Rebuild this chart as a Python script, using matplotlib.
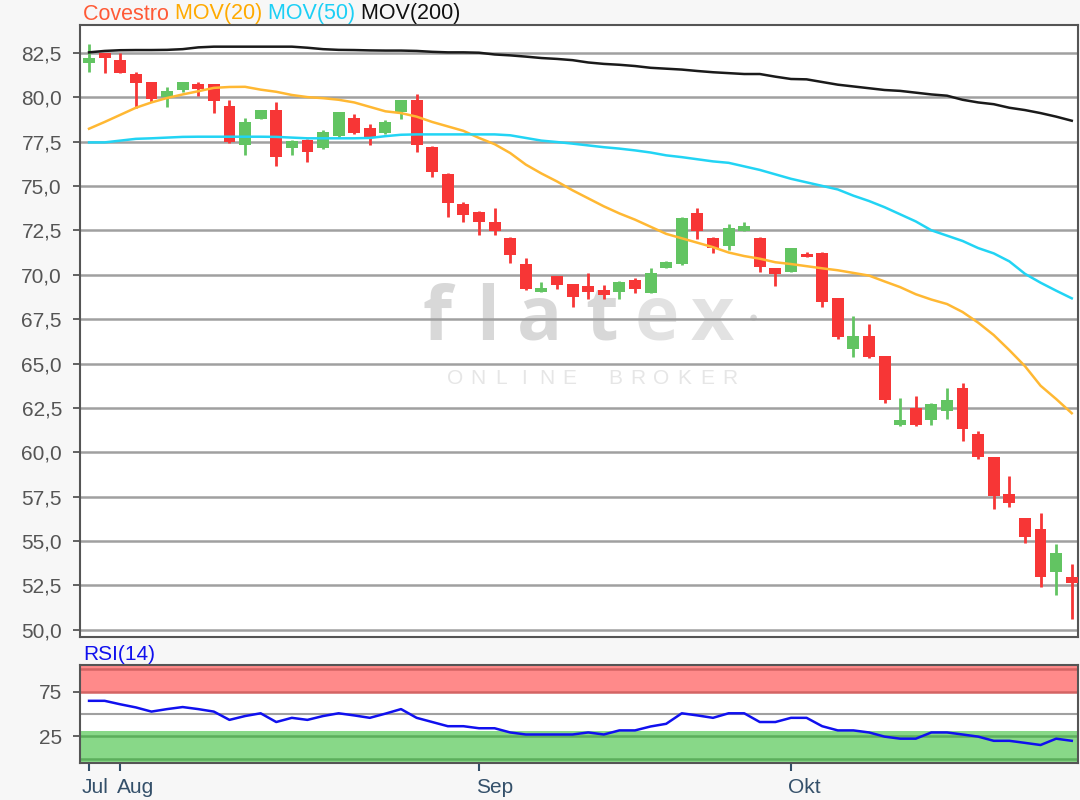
import numpy as np
import pandas as pd
import matplotlib
matplotlib.use('Agg')
import matplotlib.pyplot as plt
import matplotlib.transforms as mtransforms
from matplotlib.ticker import FuncFormatter, FixedLocator

plt.rcParams['font.family'] = ['Liberation Sans', 'DejaVu Sans']

# Covestro daily candles, Jul 30 - Oct 25 2018
dates = pd.bdate_range('2018-07-30', periods=64)

opens = [81.9, 82.47, 82.09, 81.28, 80.83, 80.02, 80.4, 80.72, 80.72, 79.5,
         77.3, 78.77, 79.27, 77.15, 77.58, 77.12, 77.83, 78.81, 78.24, 77.96,
         79.18, 79.84, 77.21, 75.65, 73.98, 73.51, 72.95, 72.05, 70.6, 69.04,
         69.93, 69.46, 69.36, 69.14, 69.04, 69.7, 68.95, 70.37, 70.6, 73.49,
         72.05, 71.61, 72.48, 72.05, 70.36, 70.17, 71.17, 71.24, 68.67, 65.8,
         66.55, 65.42, 61.52, 62.48, 61.8, 62.34, 63.6, 61.03, 59.72, 57.65,
         56.29, 55.7, 53.28, 52.99]
highs = [82.99, 82.5, 82.47, 81.43, 80.85, 80.59, 80.86, 80.87, 80.75, 79.84,
         78.81, 79.3, 79.7, 77.6, 77.62, 78.15, 79.16, 79.03, 78.47, 78.71,
         79.86, 80.17, 77.25, 75.7, 74.11, 73.6, 73.74, 72.1, 70.92, 69.61,
         69.95, 69.5, 70.11, 69.42, 69.65, 69.8, 70.36, 70.75, 73.25, 73.77,
         72.1, 72.85, 72.98, 72.1, 70.4, 71.5, 71.3, 71.3, 68.7, 67.67,
         67.22, 65.45, 63.04, 63.17, 62.75, 63.6, 63.92, 61.22, 59.75, 58.67,
         56.3, 56.6, 54.86, 53.71]
lows = [81.43, 81.34, 81.34, 79.4, 79.74, 79.46, 80.3, 80.08, 79.09, 77.42,
        76.74, 78.75, 76.12, 76.74, 76.36, 77.1, 77.68, 77.94, 77.3, 77.94,
        78.77, 76.93, 75.48, 73.23, 72.98, 72.24, 72.24, 70.64, 69.15, 69.0,
        69.18, 68.16, 68.61, 68.61, 68.61, 68.95, 68.95, 70.35, 70.55, 71.99,
        71.21, 71.4, 72.45, 70.17, 69.36, 70.15, 70.98, 68.16, 66.36, 65.35,
        65.3, 62.76, 61.5, 61.5, 61.52, 61.86, 60.65, 59.6, 56.79, 56.9,
        54.88, 52.4, 51.94, 50.6]
closes = [82.18, 82.22, 81.34, 80.78, 79.89, 80.36, 80.83, 80.44, 79.78, 77.45,
          78.58, 79.27, 76.61, 77.53, 76.89, 78.02, 79.14, 77.96, 77.71, 78.58,
          79.84, 77.3, 75.8, 74.02, 73.36, 72.98, 72.48, 71.11, 69.18, 69.23,
          69.42, 68.73, 69.04, 68.86, 69.61, 69.18, 70.11, 70.74, 73.18, 72.48,
          71.52, 72.61, 72.74, 70.42, 70.04, 71.49, 70.98, 68.48, 66.48, 66.55,
          65.35, 62.94, 61.8, 61.52, 62.72, 62.94, 61.3, 59.72, 57.54, 57.13,
          55.24, 52.96, 54.32, 52.62]

mov20 = [78.22, 78.6, 79.0, 79.4, 79.7, 79.95, 80.15, 80.33, 80.52, 80.57,
         80.58, 80.42, 80.3, 80.12, 80.0, 79.94, 79.85, 79.7, 79.45, 79.2,
         79.1, 78.9, 78.6, 78.35, 78.1, 77.7, 77.35, 76.85, 76.2, 75.7,
         75.25, 74.75, 74.3, 73.85, 73.45, 73.1, 72.7, 72.3, 72.05, 71.8,
         71.55, 71.25, 71.05, 70.9, 70.7, 70.6, 70.48, 70.36, 70.25, 70.1,
         69.95, 69.62, 69.3, 68.9, 68.6, 68.35, 67.9, 67.3, 66.6, 65.75,
         64.85, 63.75, 63.0, 62.2]
mov50 = [77.45, 77.45, 77.55, 77.65, 77.68, 77.72, 77.76, 77.77, 77.77, 77.77,
         77.77, 77.77, 77.76, 77.72, 77.68, 77.68, 77.68, 77.68, 77.7, 77.8,
         77.88, 77.9, 77.9, 77.9, 77.9, 77.9, 77.9, 77.85, 77.7, 77.55,
         77.47, 77.38, 77.28, 77.18, 77.1, 77.0, 76.88, 76.72, 76.62, 76.5,
         76.38, 76.3, 76.1, 75.9, 75.65, 75.4, 75.2, 75.0, 74.8, 74.45,
         74.15, 73.8, 73.4, 73.0, 72.5, 72.2, 71.9, 71.5, 71.2, 70.75,
         70.05, 69.55, 69.1, 68.67]
mov200 = [82.52, 82.6, 82.64, 82.65, 82.65, 82.66, 82.7, 82.8, 82.84, 82.84,
          82.84, 82.84, 82.84, 82.84, 82.78, 82.7, 82.66, 82.65, 82.63, 82.62,
          82.62, 82.6, 82.55, 82.52, 82.52, 82.5, 82.4, 82.35, 82.28, 82.2,
          82.15, 82.08, 81.95, 81.87, 81.82, 81.75, 81.65, 81.6, 81.55, 81.47,
          81.4, 81.35, 81.3, 81.3, 81.15, 81.02, 81.0, 80.85, 80.7, 80.6,
          80.5, 80.4, 80.35, 80.25, 80.15, 80.08, 79.85, 79.7, 79.6, 79.4,
          79.27, 79.1, 78.9, 78.67]
rsi14 = [64.8, 64.8, 60.9, 57.4, 52.7, 55.5, 57.8, 55.5, 52.7, 43.4,
         47.7, 50.8, 41.0, 45.7, 43.4, 47.7, 50.8, 48.4, 45.7, 50.4,
         55.5, 45.7, 41.0, 36.3, 36.3, 34.0, 34.0, 29.3, 27.0, 27.0,
         27.0, 27.0, 29.3, 27.0, 31.6, 31.6, 36.0, 39.0, 50.8, 48.4,
         45.7, 50.8, 50.8, 41.0, 41.0, 45.7, 45.7, 36.3, 31.6, 31.6,
         29.3, 24.6, 22.3, 22.3, 29.3, 29.3, 27.0, 24.6, 19.9, 19.9,
         17.6, 15.2, 22.3, 19.9]
month_names = {7: 'Jul', 8: 'Aug', 9: 'Sep', 10: 'Okt'}

red = '#f73636'
green = '#62c462'
grid_c = '#a0a0a0'
tick_c = '#555555'
fs = 15

fig = plt.figure(figsize=(10.8, 8.0), dpi=100, facecolor='#f7f7f7')
ax = fig.add_axes([80 / 1080, 1 - 637 / 800, 998 / 1080, 612 / 800])
ax2 = fig.add_axes([80 / 1080, 1 - 763 / 800, 998 / 1080, 98 / 800])

x = np.arange(len(dates))
o = np.array(opens)
c = np.array(closes)
up = c >= o
cols = [green if u else red for u in up]

# flatex watermark, letters spread out like the logo
logo_x = [437, 488, 540, 602, 657, 712]
for ch, px in zip('flatex', logo_x):
    wm = '#d8d8d8' if ch in 'flat' else '#e2e2e2'
    ax.text((px - 80) / 998, (637 - 340) / 612, ch, transform=ax.transAxes,
            ha='center', va='baseline', fontsize=54, fontweight='bold',
            color=wm, family='Open Sans', zorder=0)
ax.text((753 - 80) / 998, (637 - 318) / 612, '\u25cf', transform=ax.transAxes,
        ha='center', va='center', fontsize=11, color='#d8d8d8', zorder=0)
for k, ch in enumerate('ONLINE BROKER'):
    ax.text((455 + 22.9 * k - 80) / 998, (637 - 378) / 612, ch,
            transform=ax.transAxes, ha='center', va='center', fontsize=15,
            color='#e6e6e6', zorder=0)

ax.vlines(x, lows, highs, colors=cols, linewidth=2, zorder=3)
body = np.maximum(np.abs(c - o), 0.1)
ax.bar(x, body, bottom=np.minimum(o, c), width=0.76, color=cols, zorder=4)

ax.plot(x, mov20, color='#ffb833', lw=1.8, zorder=5)
ax.plot(x, mov50, color='#22d4f4', lw=1.8, zorder=5)
ax.plot(x, mov200, color='#1a1a1a', lw=1.8, zorder=5)

ax.set_xlim(-0.58, 63.4)
ax.set_ylim(49.6, 84.06)
yt = np.arange(50, 83, 2.5)
ax.yaxis.set_major_locator(FixedLocator(yt))
ax.yaxis.set_major_formatter(FuncFormatter(lambda v, p: f'{v:.1f}'.replace('.', ',')))
ax.grid(axis='y', color=grid_c, lw=1.8, zorder=1)
ax.set_xticks([])
ax.tick_params(axis='y', length=5, width=1.3, color=tick_c, labelcolor=tick_c,
               labelsize=fs, pad=8)
for s in ax.spines.values():
    s.set_color('#555555')
    s.set_linewidth(1.5)

# RSI panel
ax2.axhspan(74.5, 106, color='#ff8a8a', lw=0, zorder=0)
ax2.axhspan(-6, 31, color='#88d888', lw=0, zorder=0)
for lvl in (100, 75):
    ax2.axhline(lvl, color='#d46464', lw=1.8, zorder=1)
for lvl in (25, 0):
    ax2.axhline(lvl, color='#5cae5c', lw=1.8, zorder=1)
ax2.axhline(50, color=grid_c, lw=1.5, zorder=1)
ax2.plot(x, rsi14, color='#1010ee', lw=1.8, zorder=3)
ax2.set_xlim(-0.58, 63.4)
ax2.set_ylim(-5, 105)
ax2.set_yticks([25, 75])
ax2.tick_params(axis='y', length=5, width=1.3, color=tick_c, labelcolor=tick_c,
                labelsize=fs, pad=8)
for s in ax2.spines.values():
    s.set_color('#555555')
    s.set_linewidth(1.5)

months = dates.month
first_idx = [i for i in range(len(dates)) if i == 0 or months[i] != months[i - 1]]
ax2.set_xticks(first_idx)
ax2.set_xticklabels([month_names[months[i]] for i in first_idx])
ax2.tick_params(axis='x', length=6, width=1.5, color='#34506a', labelcolor='#34506a',
                labelsize=fs, pad=5)
for k, lab in enumerate(ax2.get_xticklabels()):
    lab.set_horizontalalignment('left')
    shift = -7 if k == 0 else -3
    lab.set_transform(lab.get_transform() +
                      mtransforms.ScaledTranslation(shift / 100, 0, fig.dpi_scale_trans))

fig.text(83 / 1080, 1 - 655 / 800, 'RSI(14)', color='#1010ee', fontsize=fs,
         va='center', ha='left')

# colored header
parts = [('Covestro', '#ff5a36'), ('MOV(20)', '#ffaa00'),
         ('MOV(50)', '#1ccff5'), ('MOV(200)', '#111111')]
renderer = fig.canvas.get_renderer()
xpos = 83 / 1080
for label, col in parts:
    t = fig.text(xpos, 1 - 14 / 800, label + ' ', color=col, fontsize=15.5,
                 va='center', ha='left')
    bb = t.get_window_extent(renderer=renderer)
    xpos += bb.width / fig.bbox.width

fig.savefig('out.png', dpi=100, facecolor=fig.get_facecolor())
